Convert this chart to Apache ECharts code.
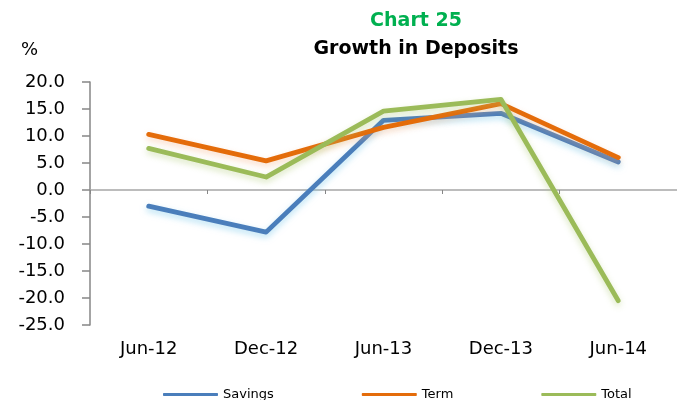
<!DOCTYPE html>
<html>
<head>
<meta charset="utf-8">
<script src="https://cdn.jsdelivr.net/npm/echarts@6/dist/echarts.min.js"></script>
<style>
html,body{margin:0;padding:0;background:#fff;}
#chart{width:677px;height:400px;}
</style>
</head>
<body>
<div id="chart"></div>
<script>
const categories = ['Jun-12', 'Dec-12', 'Jun-13', 'Dec-13', 'Jun-14'];
const savings = [-3.0, -7.8, 12.9, 14.2, 5.2];
const term = [10.3, 5.4, 11.6, 16.0, 6.0];
const total = [7.7, 2.4, 14.6, 16.8, -20.5];
const yTicks = { min: -25, max: 20, interval: 5 };

const chart = echarts.init(document.getElementById('chart'), null, { renderer: 'canvas' });
const font = 'DejaVu Sans';
function lineSeries(name, data, color, shadow) {
  return {
    name: name, type: 'line', data: data, xAxisIndex: 0, yAxisIndex: 0,
    symbol: 'none', smooth: false,
    lineStyle: { color: color, width: 4.8, shadowColor: shadow, shadowBlur: 6, shadowOffsetY: 3, cap: 'round', join: 'round' },
    itemStyle: { color: color },
    z: 3
  };
}
chart.setOption({
  animation: false,
  backgroundColor: '#ffffff',
  title: [
    { text: 'Chart 25', left: 411, top: 7, textAlign: 'center',
      textStyle: { fontFamily: font, fontSize: 19, fontWeight: 'bold', color: '#00b050' } },
    { text: 'Growth in Deposits', left: 411, top: 35, textAlign: 'center',
      textStyle: { fontFamily: font, fontSize: 19, fontWeight: 'bold', color: '#000000' } },
    { text: '%', left: 16, top: 36,
      textStyle: { fontFamily: font, fontSize: 18, fontWeight: 'normal', color: '#000000' } }
  ],
  grid: { left: 90, right: -13, top: 82, bottom: 75, containLabel: false },
  legend: {
    left: 158, bottom: -6, itemGap: 88, itemWidth: 55, itemHeight: 3, icon: 'roundRect',
    textStyle: { fontFamily: font, fontSize: 13, color: '#000000' },
    data: ['Savings', 'Term', 'Total']
  },
  xAxis: [
    { type: 'category', data: categories, position: 'bottom', boundaryGap: true,
      axisLine: { show: false, onZero: false }, axisTick: { show: false },
      axisLabel: { margin: 15, fontFamily: font, fontSize: 18, color: '#000000', interval: 0 },
      splitLine: { show: false } },
    { type: 'category', data: categories, position: 'bottom', boundaryGap: true,
      axisLine: { show: true, onZero: true, lineStyle: { color: '#a6a6a6', width: 1.5 } },
      axisTick: { show: true, length: 4, lineStyle: { color: '#868686' } },
      axisLabel: { show: false }, splitLine: { show: false } }
  ],
  yAxis: {
    type: 'value', min: yTicks.min, max: yTicks.max, interval: yTicks.interval,
    axisLine: { show: true, onZero: false, lineStyle: { color: '#868686', width: 1.5 } },
    axisTick: { show: true, length: 8, lineStyle: { color: '#868686', width: 1.5 } },
    axisLabel: { margin: 25, fontFamily: font, fontSize: 18, color: '#000000',
      formatter: function (v) { return v.toFixed(1); } },
    splitLine: { show: false }
  },
  series: [
    lineSeries('Savings', savings, '#4a7ebb', 'rgba(120,200,235,0.55)'),
    lineSeries('Term', term, '#e46c0a', 'rgba(245,170,120,0.45)'),
    lineSeries('Total', total, '#9bbb59', 'rgba(170,200,110,0.45)')
  ]
});
</script>
</body>
</html>
